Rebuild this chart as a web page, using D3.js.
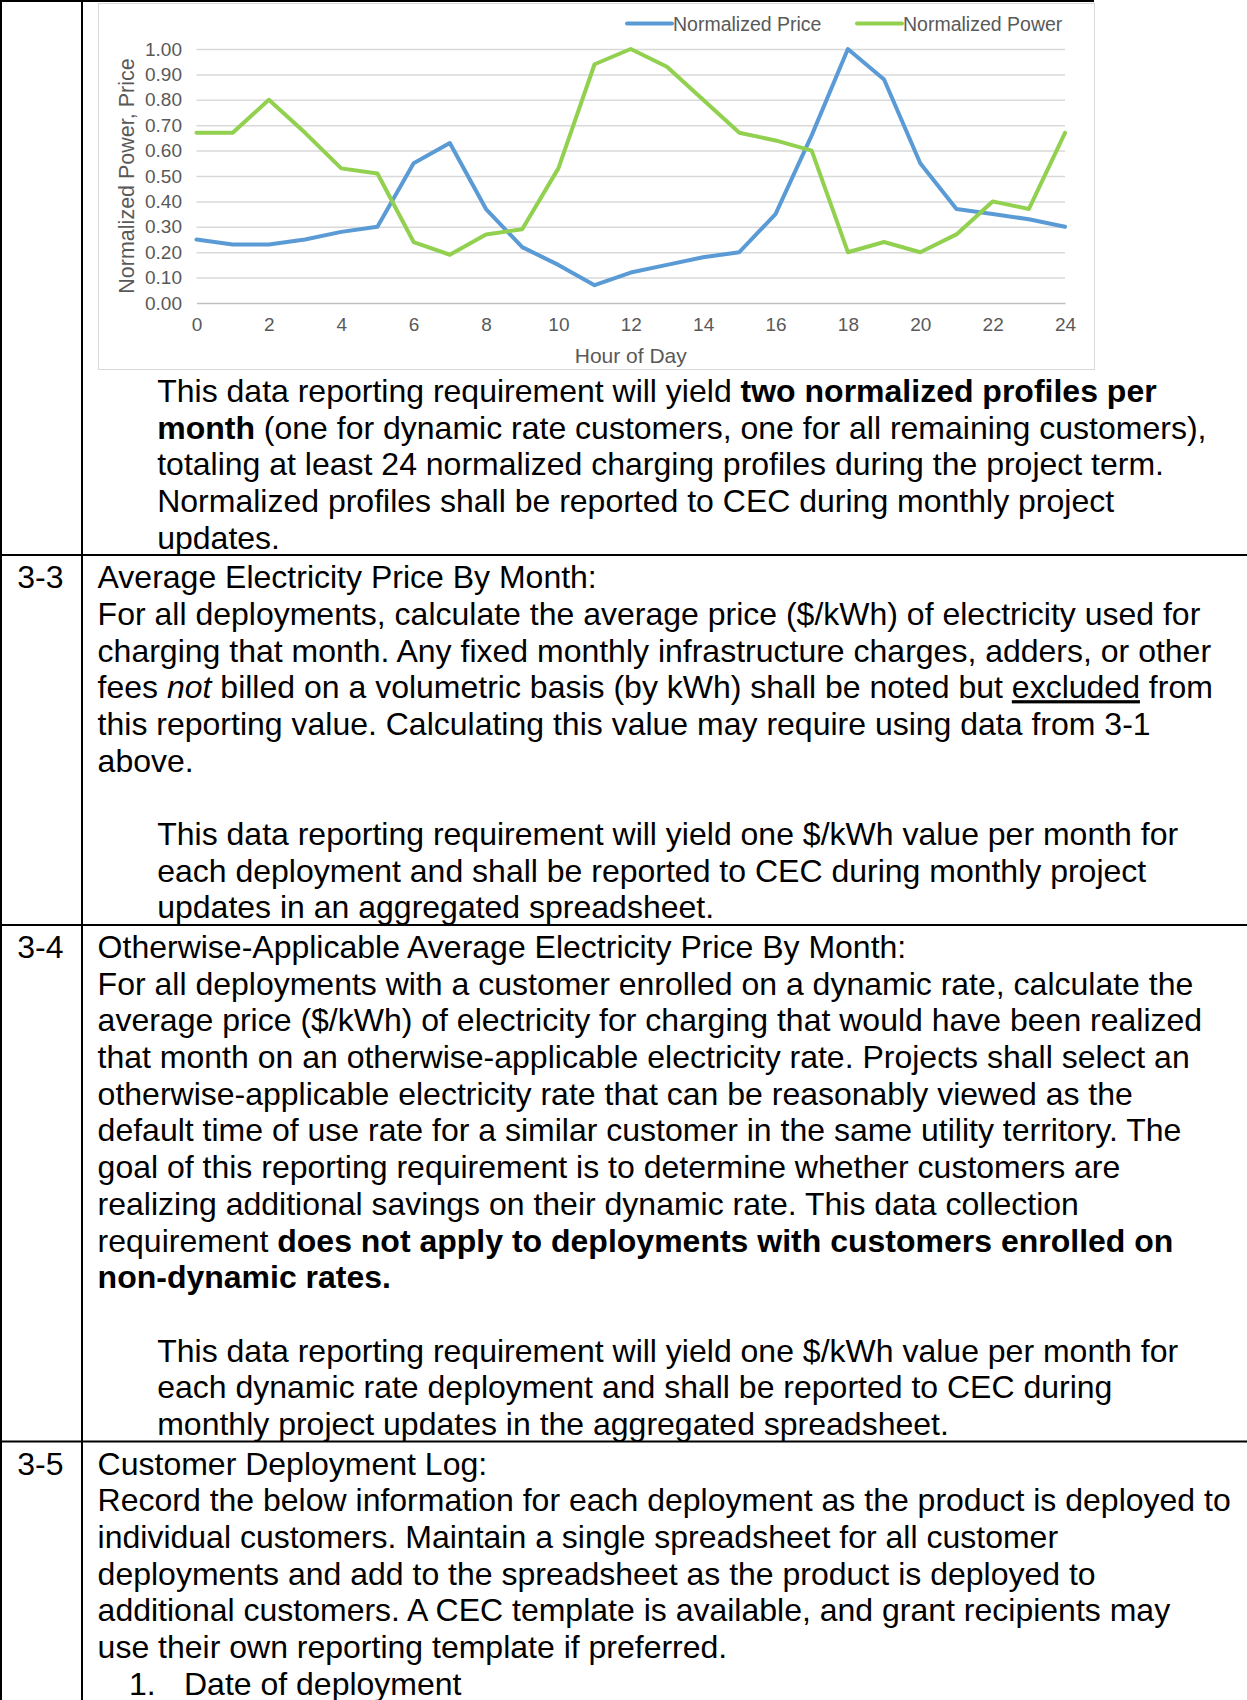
<!DOCTYPE html>
<html>
<head>
<meta charset="utf-8">
<script src="https://cdn.jsdelivr.net/npm/d3@7"></script>
<style>
  body { margin: 0; background: #fff; }
  svg { display: block; }
  .doc text { font-family: "Liberation Sans", Arial, sans-serif; white-space: pre; }
</style>
</head>
<body>
<div id="page"></div>
<script>
// ---- chart data ----
const hours = [0, 1, 2, 3, 4, 5, 6, 7, 8, 9, 10, 11, 12, 13, 14, 15, 16, 17, 18, 19, 20, 21, 22, 23, 24];
const normalizedPrice = [0.25, 0.23, 0.23, 0.25, 0.28, 0.30, 0.55, 0.63, 0.37, 0.22, 0.15, 0.07, 0.12,
                         0.15, 0.18, 0.20, 0.35, 0.66, 1.00, 0.88, 0.55, 0.37, 0.35, 0.33, 0.30];
const normalizedPower = [0.67, 0.67, 0.80, 0.67, 0.53, 0.51, 0.24, 0.19, 0.27, 0.29, 0.53, 0.94, 1.00,
                         0.93, 0.80, 0.67, 0.64, 0.60, 0.20, 0.24, 0.20, 0.27, 0.40, 0.37, 0.67];
const yTicks = [0, 0.1, 0.2, 0.3, 0.4, 0.5, 0.6, 0.7, 0.8, 0.9, 1.0];
const xTicks = [0, 2, 4, 6, 8, 10, 12, 14, 16, 18, 20, 22, 24];
const seriesNames = ["Normalized Price", "Normalized Power"];
const seriesColors = ["#5b9bd5", "#92d050"];
const xTitle = "Hour of Day";
const yTitle = "Normalized Power, Price";

// ---- document text (runs: [text, style]) ----
const introParas = [
    {kind: "note", lines: [
        [["This data reporting requirement will yield "], ["two normalized profiles per", "b"]],
        [["month", "b"], [" (one for dynamic rate customers, one for all remaining customers),"]],
        [["totaling at least 24 normalized charging profiles during the project term."]],
        [["Normalized profiles shall be reported to CEC during monthly project"]],
        [["updates."]]
    ]}
];

const rows = [
    {label: "3-3", paras: [
        {kind: "body", lines: [
            [["Average Electricity Price By Month:"]],
            [["For all deployments, calculate the average price ($/kWh) of electricity used for"]],
            [["charging that month. Any fixed monthly infrastructure charges, adders, or other"]],
            [["fees "], ["not", "i"], [" billed on a volumetric basis (by kWh) shall be noted but "], ["excluded", "u"], [" from"]],
            [["this reporting value. Calculating this value may require using data from 3-1"]],
            [["above."]],
            []
        ]},
        {kind: "note", lines: [
            [["This data reporting requirement will yield one $/kWh value per month for"]],
            [["each deployment and shall be reported to CEC during monthly project"]],
            [["updates in an aggregated spreadsheet."]]
        ]}
    ]},
    {label: "3-4", paras: [
        {kind: "body", lines: [
            [["Otherwise-Applicable Average Electricity Price By Month:"]],
            [["For all deployments with a customer enrolled on a dynamic rate, calculate the"]],
            [["average price ($/kWh) of electricity for charging that would have been realized"]],
            [["that month on an otherwise-applicable electricity rate. Projects shall select an"]],
            [["otherwise-applicable electricity rate that can be reasonably viewed as the"]],
            [["default time of use rate for a similar customer in the same utility territory. The"]],
            [["goal of this reporting requirement is to determine whether customers are"]],
            [["realizing additional savings on their dynamic rate. This data collection"]],
            [["requirement "], ["does not apply to deployments with customers enrolled on", "b"]],
            [["non-dynamic rates.", "b"]],
            []
        ]},
        {kind: "note", lines: [
            [["This data reporting requirement will yield one $/kWh value per month for"]],
            [["each dynamic rate deployment and shall be reported to CEC during"]],
            [["monthly project updates in the aggregated spreadsheet."]]
        ]}
    ]},
    {label: "3-5", paras: [
        {kind: "body", lines: [
            [["Customer Deployment Log:"]],
            [["Record the below information for each deployment as the product is deployed to"]],
            [["individual customers. Maintain a single spreadsheet for all customer"]],
            [["deployments and add to the spreadsheet as the product is deployed to"]],
            [["additional customers. A CEC template is available, and grant recipients may"]],
            [["use their own reporting template if preferred."]]
        ]},
        {kind: "list", number: "1.", lines: [
            [["Date of deployment"]]
        ]}
    ]}
];

const W = 1247, H = 1700;
const FS = 32, LH = 36.7;
const colX = {label: 17.3, body: 97.6, note: 157.2, listNum: 129, list: 184};
const dividerX = 82;

const svg = d3.select("#page").append("svg")
    .attr("width", W)
    .attr("height", H)
    .attr("class", "doc");

// ---- chart ----
const chart = svg.append("g");
const plot = {left: 196.5, right: 1065, top: 49, bottom: 303};

chart.append("rect")
    .attr("x", 98.5).attr("y", 3.5)
    .attr("width", 996).attr("height", 366)
    .attr("fill", "#fff")
    .attr("stroke", "#d9d9d9");

const x = d3.scaleLinear().domain([0, 24]).range([plot.left, plot.right]);
const y = d3.scaleLinear().domain([0, 1]).range([plot.bottom, plot.top]);

// gridlines
const grid = chart.append("g")
    .attr("transform", `translate(${plot.left},0)`)
    .call(d3.axisLeft(y).tickValues(yTicks.slice(1)).tickSize(-(plot.right - plot.left)).tickFormat(""));
grid.select(".domain").remove();
grid.selectAll("line").attr("stroke", "#d9d9d9").attr("stroke-width", 1.5);

// x axis
const xAxis = chart.append("g")
    .attr("transform", `translate(0,${plot.bottom})`)
    .call(d3.axisBottom(x).tickValues(xTicks).tickSize(0).tickPadding(15));
xAxis.select(".domain").attr("stroke", "#bfbfbf").attr("stroke-width", 1.5);
xAxis.selectAll("text")
    .attr("fill", "#595959")
    .style("font-size", "19px");

// y axis
const yAxis = chart.append("g")
    .attr("transform", `translate(${plot.left},0)`)
    .call(d3.axisLeft(y).tickValues(yTicks).tickFormat(d3.format(".2f")).tickSize(0).tickPadding(14.5));
yAxis.select(".domain").remove();
yAxis.selectAll("text")
    .attr("fill", "#595959")
    .style("font-size", "19px");

// axis titles
chart.append("text")
    .attr("x", (plot.left + plot.right) / 2)
    .attr("y", 363)
    .attr("text-anchor", "middle")
    .attr("fill", "#595959")
    .style("font-size", "21px")
    .text(xTitle);

chart.append("text")
    .attr("transform", `translate(133.5,${(plot.top + plot.bottom) / 2}) rotate(-90)`)
    .attr("text-anchor", "middle")
    .attr("fill", "#595959")
    .style("font-size", "21.5px")
    .text(yTitle);

// lines
const lineGen = d3.line()
    .x((d, i) => x(hours[i]))
    .y(d => y(d));

[normalizedPrice, normalizedPower].forEach((series, i) => {
    chart.append("path")
        .datum(series)
        .attr("d", lineGen)
        .attr("fill", "none")
        .attr("stroke", seriesColors[i])
        .attr("stroke-width", 4)
        .attr("stroke-linejoin", "round")
        .attr("stroke-linecap", "round");
});

// legend
const legendX = [627, 857];
const legend = chart.selectAll(".legend")
    .data(seriesNames)
    .enter()
    .append("g")
    .attr("class", "legend")
    .attr("transform", (d, i) => `translate(${legendX[i]},23.5)`);

legend.append("line")
    .attr("x1", 0).attr("x2", 45)
    .attr("stroke", (d, i) => seriesColors[i])
    .attr("stroke-width", 4)
    .attr("stroke-linecap", "round");

legend.append("text")
    .attr("x", 46)
    .attr("dy", "0.36em")
    .attr("fill", "#595959")
    .style("font-size", "19.5px")
    .text(d => d);

// ---- document text ----
const textLayer = svg.append("g");

function drawLine(runs, xPos, yPos) {
    const t = textLayer.append("text")
        .attr("x", xPos)
        .attr("y", yPos)
        .style("font-size", FS + "px")
        .attr("fill", "#000");
    runs.forEach(r => {
        const span = t.append("tspan").text(r[0]);
        if (r[1] === "b") span.attr("font-weight", "bold");
        if (r[1] === "i") span.attr("font-style", "italic");
        if (r[1] === "u") span.attr("text-decoration", "underline");
    });
}

function drawParas(paras, firstBaseline) {
    let yPos = firstBaseline;
    let last = firstBaseline;
    paras.forEach(p => {
        p.lines.forEach(line => {
            if (p.kind === "list") {
                drawLine([[p.number]], colX.listNum, yPos);
                drawLine(line, colX.list, yPos);
            } else {
                drawLine(line, p.kind === "note" ? colX.note : colX.body, yPos);
            }
            last = yPos;
            yPos += LH;
        });
    });
    return last;
}

const borders = [];
let lastBase = drawParas(introParas, 401.8);
let borderY = lastBase + 6.5;
borders.push(borderY);

rows.forEach(row => {
    const first = borderY + 33;
    drawLine([[row.label]], colX.label, first);
    lastBase = drawParas(row.paras, first);
    borderY = lastBase + 6.5;
    borders.push(borderY);
});

// ---- table rules ----
const rules = svg.append("g").attr("stroke", "#000").attr("stroke-width", 2);
rules.append("line").attr("x1", 0).attr("x2", 1094).attr("y1", 1).attr("y2", 1);
rules.append("line").attr("x1", 1).attr("x2", 1).attr("y1", 0).attr("y2", H);
rules.append("line").attr("x1", dividerX).attr("x2", dividerX).attr("y1", 0).attr("y2", H);
rules.selectAll(".row-rule")
    .data(borders.slice(0, -1))
    .enter()
    .append("line")
    .attr("class", "row-rule")
    .attr("x1", 0).attr("x2", W)
    .attr("y1", d => d).attr("y2", d => d);
</script>
</body>
</html>
